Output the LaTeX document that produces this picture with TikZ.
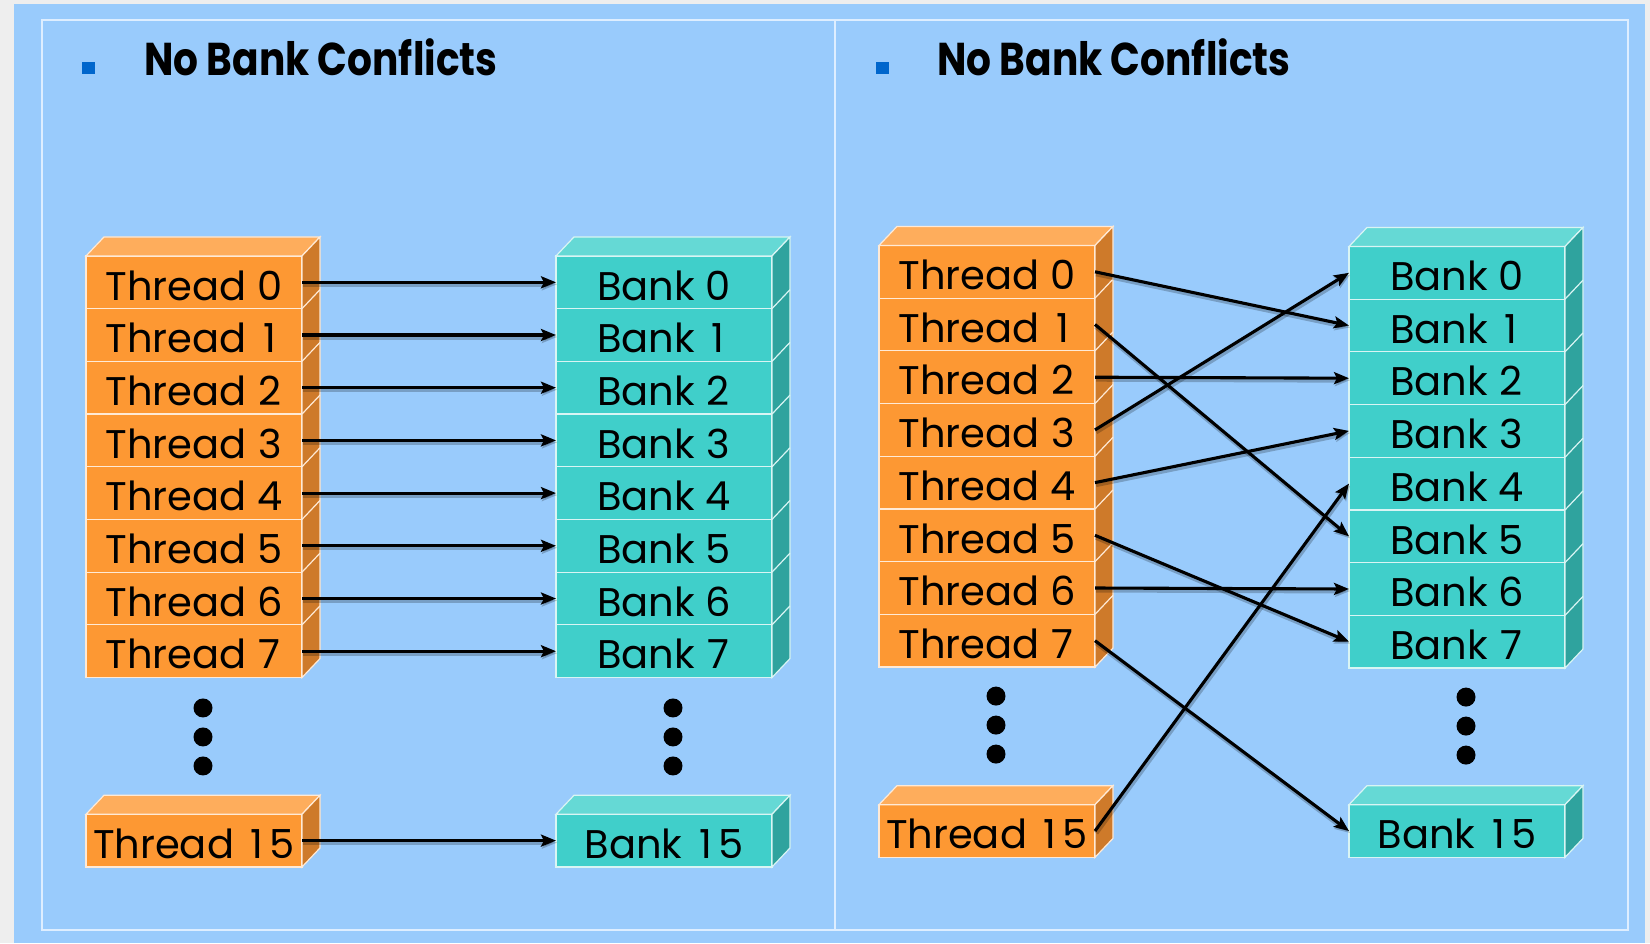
\documentclass[tikz,border=0pt]{standalone}
\usepackage{fontspec}
\setmainfont{Poppins}
\newfontfamily\headfont{Poppins}[FakeStretch=0.85]
\usepackage{xcolor}
\usetikzlibrary{arrows.meta,positioning}

\definecolor{pagegray}{RGB}{238,238,238}
\definecolor{slidebg}{RGB}{153,203,252}
\definecolor{framewhite}{RGB}{222,238,255}
\definecolor{bulletblue}{RGB}{0,102,204}
\definecolor{thrfront}{RGB}{253,152,51}
\definecolor{thrtop}{RGB}{254,173,92}
\definecolor{thrside}{RGB}{206,122,42}
\definecolor{bnkfront}{RGB}{64,207,202}
\definecolor{bnktop}{RGB}{101,217,213}
\definecolor{bnkside}{RGB}{47,163,158}

% digits all as wide as a 0, so the labels line up
\newlength{\digitwd}
\newcommand{\rowno}[1]{\settowidth{\digitwd}{0}\makebox[\digitwd]{#1}}

% top and side faces of a stack, from its first to its last row
\newcommand{\boxfaces}[4]{%
  \draw[face,fill=#3] (#1.north west) -- ++(18,-19) -- ([shift={(18,-19)}]#1.north east) -- (#1.north east) -- cycle;
  \draw[face,fill=#4] (#1.north east) -- ++(18,-19) -- ([shift={(18,-19)}]#2.south east) -- (#2.south east) -- cycle;
}

\begin{document}
\begin{tikzpicture}[x=1pt,y=-1pt,
  >={Stealth[length=15pt,width=12pt,inset=3pt]}
]

\tikzset{
  thread/.style={draw=white!80!thrfront,fill=thrfront,line width=1.2pt,
    minimum width=216pt,minimum height=52.7pt,inner sep=0pt,outer sep=0pt,
    text height=35.4pt,text depth=0pt,font=\fontsize{40}{44}\selectfont},
  bank/.style={thread,draw=white!80!bnkfront,fill=bnkfront},
  face/.style={draw=white!80!thrfront,line width=1.2pt},
  title/.style={anchor=base west,inner sep=0pt,font=\headfont\bfseries\fontsize{46}{50}\selectfont},
  link/.style={draw,->,line width=3.1pt,black,
    preaction={draw,black,opacity=0.22,line width=5pt,
      transform canvas={shift={(1pt,-2pt)}}}},
  frameline/.style={framewhite,line width=2.5pt}
}

\useasboundingbox (0,0) rectangle (1650,943);
\fill[pagegray] (0,0) rectangle (1650,943);
\fill[slidebg] (14,4) rectangle (1645,943);
\draw[frameline] (42,20) rectangle (1628,930);
\draw[frameline] (835,20) -- (835,930);

% headings
\fill[bulletblue] (81.5,62) rectangle (94.5,74);
\node[title] (ltitle) at (144,75) {No Bank Conflicts};
\fill[bulletblue] (875.5,62) rectangle (888.5,74);
\node[title] (rtitle) at (937,75) {No Bank Conflicts};

% left side: threads
\node[thread] (lt0) at (194,282.3) {Thread \rowno{0}};
\node[thread, below=0pt of lt0] (lt1) {Thread \rowno{1}};
\node[thread, below=0pt of lt1] (lt2) {Thread \rowno{2}};
\node[thread, below=0pt of lt2] (lt3) {Thread \rowno{3}};
\node[thread, below=0pt of lt3] (lt4) {Thread \rowno{4}};
\node[thread, below=0pt of lt4] (lt5) {Thread \rowno{5}};
\node[thread, below=0pt of lt5] (lt6) {Thread \rowno{6}};
\node[thread, below=0pt of lt6] (lt7) {Thread \rowno{7}};
\node[thread] (lt15) at (194,840.6) {Thread \rowno{1}\rowno{5}};

% left side: banks
\node[bank] (lb0) at (664,282.3) {Bank \rowno{0}};
\node[bank, below=0pt of lb0] (lb1) {Bank \rowno{1}};
\node[bank, below=0pt of lb1] (lb2) {Bank \rowno{2}};
\node[bank, below=0pt of lb2] (lb3) {Bank \rowno{3}};
\node[bank, below=0pt of lb3] (lb4) {Bank \rowno{4}};
\node[bank, below=0pt of lb4] (lb5) {Bank \rowno{5}};
\node[bank, below=0pt of lb5] (lb6) {Bank \rowno{6}};
\node[bank, below=0pt of lb6] (lb7) {Bank \rowno{7}};
\node[bank] (lb15) at (664,840.6) {Bank \rowno{1}\rowno{5}};

% right side: threads
\node[thread] (rt0) at (987,271.8) {Thread \rowno{0}};
\node[thread, below=0pt of rt0] (rt1) {Thread \rowno{1}};
\node[thread, below=0pt of rt1] (rt2) {Thread \rowno{2}};
\node[thread, below=0pt of rt2] (rt3) {Thread \rowno{3}};
\node[thread, below=0pt of rt3] (rt4) {Thread \rowno{4}};
\node[thread, below=0pt of rt4] (rt5) {Thread \rowno{5}};
\node[thread, below=0pt of rt5] (rt6) {Thread \rowno{6}};
\node[thread, below=0pt of rt6] (rt7) {Thread \rowno{7}};
\node[thread] (rt15) at (987,831) {Thread \rowno{1}\rowno{5}};

% right side: banks
\node[bank] (rb0) at (1457,272.8) {Bank \rowno{0}};
\node[bank, below=0pt of rb0] (rb1) {Bank \rowno{1}};
\node[bank, below=0pt of rb1] (rb2) {Bank \rowno{2}};
\node[bank, below=0pt of rb2] (rb3) {Bank \rowno{3}};
\node[bank, below=0pt of rb3] (rb4) {Bank \rowno{4}};
\node[bank, below=0pt of rb4] (rb5) {Bank \rowno{5}};
\node[bank, below=0pt of rb5] (rb6) {Bank \rowno{6}};
\node[bank, below=0pt of rb6] (rb7) {Bank \rowno{7}};
\node[bank] (rb15) at (1457,831) {Bank \rowno{1}\rowno{5}};

\boxfaces{lt0}{lt7}{thrtop}{thrside}
\boxfaces{lt15}{lt15}{thrtop}{thrside}
\boxfaces{rt0}{rt7}{thrtop}{thrside}
\boxfaces{rt15}{rt15}{thrtop}{thrside}
\begin{scope}[face/.append style={draw=white!80!bnkfront}]
\boxfaces{lb0}{lb7}{bnktop}{bnkside}
\boxfaces{lb15}{lb15}{bnktop}{bnkside}
\boxfaces{rb0}{rb7}{bnktop}{bnkside}
\boxfaces{rb15}{rb15}{bnktop}{bnkside}
\end{scope}

\foreach \i in {0,...,6} {
  \draw[face] (lt\i.south east) -- ++(18,-19);
  \draw[face] (rt\i.south east) -- ++(18,-19);
  \draw[face,draw=white!80!bnkfront] (lb\i.south east) -- ++(18,-19);
  \draw[face,draw=white!80!bnkfront] (rb\i.south east) -- ++(18,-19);
}

% the elided rows
\foreach \d in {30.4,59.4,88.4} {
  \fill ([shift={(9,\d)}]lt7.south) circle (9.5pt);
  \fill ([shift={(9,\d)}]lb7.south) circle (9.5pt);
}
\foreach \d in {29,58,87} {
  \fill ([shift={(9,\d)}]rt7.south) circle (9.5pt);
  \fill ([shift={(9,\d)}]rb7.south) circle (9.5pt);
}

\path
  (lt0.east) edge[link] (lb0.west)
  (lt1.east) edge[link] (lb1.west)
  (lt2.east) edge[link] (lb2.west)
  (lt3.east) edge[link] (lb3.west)
  (lt4.east) edge[link] (lb4.west)
  (lt5.east) edge[link] (lb5.west)
  (lt6.east) edge[link] (lb6.west)
  (lt7.east) edge[link] (lb7.west)
  (lt15.east) edge[link] (lb15.west);

\path
  (rt0.east) edge[link] (rb1.west)
  (rt1.east) edge[link] (rb5.west)
  (rt2.east) edge[link] (rb2.west)
  (rt3.east) edge[link] (rb0.west)
  (rt4.east) edge[link] (rb3.west)
  (rt5.east) edge[link] (rb7.west)
  (rt6.east) edge[link] (rb6.west)
  (rt7.east) edge[link] (rb15.west)
  (rt15.east) edge[link] (rb4.west);

\end{tikzpicture}
\end{document}
